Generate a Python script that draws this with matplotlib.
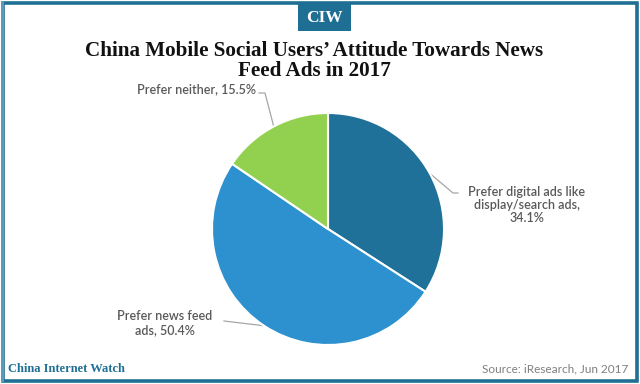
import numpy as np
import matplotlib
matplotlib.use("Agg")
import matplotlib.pyplot as plt
from matplotlib.patches import Rectangle

categories = ["Prefer digital ads like\ndisplay/search ads,\n34.1%", "Prefer news feed\nads, 50.4%", "Prefer neither, 15.5%"]
values = [34.1, 50.4, 15.5]
colors = ["#1f7199", "#2e91cf", "#92d050"]

W, H = 640, 384
fig = plt.figure(figsize=(W / 100, H / 100), dpi=100)
bg = fig.add_axes([0, 0, 1, 1])
bg.set_xlim(0, W)
bg.set_ylim(H, 0)
bg.axis("off")

teal = "#1f6f94"
# frame
bg.add_patch(Rectangle((2.5, 2.5), W - 5.5, H - 5.5, fill=False, ec=teal, lw=2.6))
bg.add_patch(Rectangle((1, 1), 3, H - 3, fc="#5b9ab8", ec="none"))
# badge
bg.add_patch(Rectangle((298, 4), 53, 27, fc=teal, ec="none"))
bg.text(324.5, 18, "CIW", color="white", fontsize=12.5, fontweight="bold",
        family="Liberation Serif", ha="center", va="center")

bg.text(314, 61, "China Mobile Social Users\u2019 Attitude Towards News\nFeed Ads in 2017",
        ha="center", va="center", fontsize=15.2, fontweight="bold",
        family="Liberation Serif", linespacing=1.05, color="#111111")

bg.text(8, 369, "China Internet Watch", color=teal, fontsize=9, fontweight="bold",
        family="Liberation Serif", ha="left", va="center")
bg.text(628, 369, "Source: iResearch, Jun 2017", color="#7f7f7f", fontsize=8.5,
        family="Lato", ha="right", va="center")

# pie
cx, cy, r = 328, 229, 116
pax = fig.add_axes([(cx - r) / W, 1 - (cy + r) / H, 2 * r / W, 2 * r / H])
wedges, _ = pax.pie(values, colors=colors, startangle=90, counterclock=False,
                    wedgeprops=dict(edgecolor="white", linewidth=1.5), radius=1)
pax.set_xlim(-1, 1)
pax.set_ylim(-1, 1)
pax.set_aspect("equal")
pax.axis("off")

lab_pos = [(527, 205, "center", (458, 193)), (165, 323, "center", (224, 319)), (256, 89, "right", (259, 93))]
lab_color = "#595959"
for w, lab, (lx, ly, ha, (ex, ey)) in zip(wedges, categories, lab_pos):
    ang = np.deg2rad((w.theta1 + w.theta2) / 2)
    px = cx + r * np.cos(ang)
    py = cy - r * np.sin(ang)
    bg.text(lx, ly, lab, ha=ha, va="center", fontsize=9, color=lab_color,
            family="Lato", fontweight="semibold", linespacing=1.15)
    if ha == "right":
        xs = [ex, ex + 6, px]
        ys = [ey, ey, py]
    elif px > lx:
        xs = [ex, px]
        ys = [ey + 2, py]
    else:
        xs = [ex, ex - 5, px]
        ys = [ey, ey, py]
    bg.plot(xs, ys, color="#a6a6a6", lw=0.9)

fig.savefig("out.png", dpi=100)
